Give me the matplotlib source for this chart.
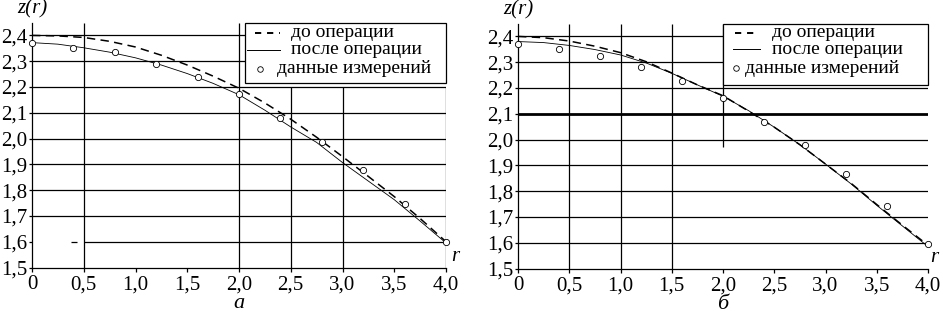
import matplotlib
matplotlib.use('Agg')
import matplotlib.pyplot as plt
from matplotlib.patches import Rectangle

plt.rcParams['font.family'] = 'serif'
plt.rcParams['font.serif'] = ['Liberation Serif', 'DejaVu Serif']

# радиус, на котором заданы профили
r_line = [0.0, 0.25, 0.5, 0.75, 1.0, 1.25, 1.5, 1.75, 2.0,
          2.25, 2.5, 2.75, 3.0, 3.25, 3.5, 3.75, 4.0]

# панель а
z_before_a = [2.400, 2.398, 2.392, 2.377, 2.355, 2.323, 2.285, 2.242, 2.195,
              2.138, 2.075, 2.005, 1.930, 1.853, 1.775, 1.690, 1.600]
z_after_a = [2.372, 2.366, 2.352, 2.335, 2.313, 2.285, 2.252, 2.214, 2.170,
             2.110, 2.045, 1.985, 1.907, 1.835, 1.763, 1.680, 1.595]

# панель б
z_before_b = [2.400, 2.395, 2.382, 2.362, 2.337, 2.302, 2.258, 2.212, 2.170,
              2.110, 2.048, 1.980, 1.905, 1.830, 1.748, 1.668, 1.590]
z_after_b = [2.380, 2.376, 2.365, 2.349, 2.328, 2.297, 2.257, 2.212, 2.168,
             2.112, 2.048, 1.980, 1.905, 1.828, 1.745, 1.665, 1.585]

# данные измерений
r_meas = [0.0, 0.4, 0.8, 1.2, 1.6, 2.0, 2.4, 2.8, 3.2, 3.6, 4.0]
z_meas_a = [2.369, 2.353, 2.334, 2.290, 2.240, 2.172, 2.078, 1.985, 1.880, 1.748, 1.598]
z_meas_b = [2.369, 2.350, 2.323, 2.280, 2.226, 2.163, 2.067, 1.980, 1.865, 1.741, 1.594]

x_ticks = [0.0, 0.5, 1.0, 1.5, 2.0, 2.5, 3.0, 3.5, 4.0]
x_tick_labels = ['0', '0,5', '1,0', '1,5', '2,0', '2,5', '3,0', '3,5', '4,0']
y_ticks = [1.5, 1.6, 1.7, 1.8, 1.9, 2.0, 2.1, 2.2, 2.3, 2.4]
y_tick_labels = ['1,5', '1,6', '1,7', '1,8', '1,9', '2,0', '2,1', '2,2', '2,3', '2,4']
legend_labels = ['до операции', 'после операции', 'данные измерений']

FS = 14
TICK_FS = 15
GRID_LW = 0.9
Y_TOP = 2.45


def setup_axes(ax, letter, r_x):
    ax.set_xlim(0, 4.0)
    ax.set_ylim(1.5, Y_TOP)
    for side in ('top', 'right'):
        ax.spines[side].set_visible(False)
    for side in ('left', 'bottom'):
        ax.spines[side].set_linewidth(GRID_LW)
    ax.set_xticks(x_ticks)
    ax.set_xticklabels(x_tick_labels)
    ax.set_yticks(y_ticks)
    ax.set_yticklabels(y_tick_labels)
    ax.tick_params(axis='x', length=3, width=GRID_LW, pad=2.5, labelsize=TICK_FS)
    ax.tick_params(axis='y', length=2.5, width=GRID_LW, pad=1, labelsize=TICK_FS)
    ax.text(0, Y_TOP + 0.015, 'z(r)', style='italic', fontsize=TICK_FS,
            ha='center', va='bottom')
    ax.text(r_x, 1.505, 'r', style='italic', fontsize=TICK_FS, ha='center', va='bottom')
    ax.text(0.5, -0.145, letter, style='italic', fontsize=TICK_FS + 1,
            ha='center', va='center', transform=ax.transAxes)


def draw_curves(ax, z_before, z_after, z_meas):
    ax.plot(r_line, z_before, color='black', lw=1.1, dashes=(5.5, 3.5),
            zorder=3, clip_on=False)
    ax.plot(r_line, z_after, color='black', lw=0.6, zorder=3, clip_on=False)
    ax.plot(r_meas, z_meas, linestyle='none', marker='o', ms=4.5, mew=0.6,
            mfc='white', mec='black', zorder=4, clip_on=False)


def draw_legend(ax, x0, bottom, rows_z, handle_x, text_x):
    ax.add_patch(Rectangle((x0, bottom), 4.0 - x0, Y_TOP - bottom, fc='white',
                           ec='black', lw=GRID_LW, zorder=5, clip_on=False))
    (hd0, hd1), (hs0, hs1), hc = handle_x
    ax.plot([hd0, hd1], [rows_z[0]] * 2, color='black', lw=1.4, dashes=(3.2, 3),
            zorder=6, clip_on=False)
    ax.plot([hs0, hs1], [rows_z[1]] * 2, color='black', lw=0.7,
            zorder=6, clip_on=False)
    ax.plot([hc], [rows_z[2]], marker='o', ms=4, mew=0.6, mfc='white',
            mec='black', zorder=6, clip_on=False)
    for label, z, tx in zip(legend_labels, rows_z, text_x):
        ax.text(tx, z, label, fontsize=FS, ha='left', va='center',
                zorder=7, clip_on=False)


fig = plt.figure(figsize=(9.42, 3.25), dpi=100)
ax_a = fig.add_axes([32 / 942, 57.5 / 325, 414 / 942, 245 / 325])
ax_b = fig.add_axes([518 / 942, 56.5 / 325, 410 / 942, 245 / 325])

# --- панель а ---
setup_axes(ax_a, 'а', 4.085)
ax_a.hlines([2.4, 2.3], 0, 2.06, color='black', lw=GRID_LW, zorder=1)
ax_a.hlines([2.2, 2.1, 2.0, 1.9, 1.8, 1.7], 0, 4.0, color='black', lw=GRID_LW, zorder=1)
ax_a.hlines([1.6], 0.5, 4.0, color='black', lw=GRID_LW, zorder=1)
ax_a.hlines([1.6], 0.38, 0.43, color='black', lw=GRID_LW, zorder=1)
ax_a.vlines([0.5, 2.0], 1.5, Y_TOP, color='black', lw=GRID_LW, zorder=1)
ax_a.vlines([2.5, 3.0, 4.0], 1.5, 2.2, color='black', lw=GRID_LW, zorder=1)
draw_curves(ax_a, z_before_a, z_after_a, z_meas_a)
draw_legend(ax_a, 2.06, 2.214, [2.41, 2.344, 2.27],
            ((2.155, 2.40), (2.08, 2.40), 2.20), [2.50, 2.50, 2.37])

# --- панель б ---
setup_axes(ax_b, 'б', 4.06)
ax_b.hlines([2.4, 2.3], 0, 2.0, color='black', lw=GRID_LW, zorder=1)
ax_b.hlines([2.2, 2.0, 1.9, 1.8, 1.7, 1.6], 0, 4.0, color='black', lw=GRID_LW, zorder=1)
ax_b.hlines([2.1], 0, 4.0, color='black', lw=2.0, zorder=1)
ax_b.vlines([0.5, 1.0, 1.5], 1.5, Y_TOP, color='black', lw=GRID_LW, zorder=1)
ax_b.vlines([2.0], 1.97, Y_TOP, color='black', lw=GRID_LW, zorder=1)
draw_curves(ax_b, z_before_b, z_after_b, z_meas_b)
draw_legend(ax_b, 2.0, 2.21, [2.415, 2.35, 2.276],
            ((2.12, 2.34), (2.10, 2.36), 2.13), [2.48, 2.48, 2.21])

fig.savefig('out.png', dpi=100)
